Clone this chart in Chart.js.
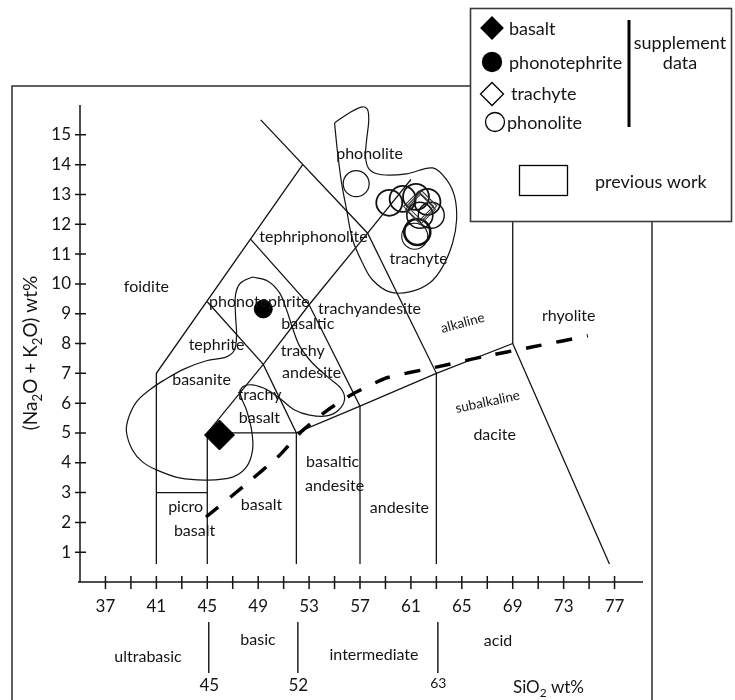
<!DOCTYPE html>
<html>
<head>
<meta charset="utf-8">
<title>TAS diagram</title>
<script src="https://cdn.jsdelivr.net/npm/chart.js@4.4.1/dist/chart.umd.min.js"></script>
<style>
  html, body { margin: 0; padding: 0; background: #fff; }
  canvas { display: block; }
</style>
</head>
<body>
<canvas id="tas" width="735" height="700"></canvas>
<script>
// ---- axis ticks -------------------------------------------------------
const xTickValues = [37,39,41,43,45,47,49,51,53,55,57,59,61,63,65,67,69,71,73,75,77];
const xTickLabels = [37,41,45,49,53,57,61,65,69,73,77];
const yTickValues = [1,2,3,4,5,6,7,8,9,10,11,12,13,14,15];
const silicaClassBreaks = [45, 52, 63];

// ---- TAS field boundaries (SiO2 wt%, Na2O+K2O wt%) -------------------
const lineFoiditeLeft    = [[41,0.6],[41,7],[52.5,14]];
const linePhonoliteBase  = [[49.2,15.5],[57.6,11.7],[63,7],[63,0.6]];
const linePicroTop       = [[41,3],[45,3]];
const lineTrachyBase     = [[45,0.6],[45,5],[49.4,7.3],[53,9.3],[57.6,11.7],[61,13.5]];
const lineTephrite       = [[45,9.4],[49.4,7.3],[52,5],[52,0.6]];
const lineTephriphono    = [[48.4,11.5],[53,9.3],[57,5.9],[57,0.6]];
const lineSubalkTop      = [[45,5],[52,5],[57,5.9],[63,7],[69,8],[76.6,0.6]];
const lineRhyolite       = [[69,8],[69,13]];

// alkaline / subalkaline divide
const alkalineDivide = [[44.9,2.18],[47.8,3.19],[50.7,4.26],[52.4,5.05],[54.4,5.75],
                        [56.4,6.3],[59.1,6.85],[62.9,7.2],[66.6,7.55],[70.5,7.88],[74.9,8.26]];

// previous work: outlines of earlier analyses
const fieldMafic = [[48.56,10.23],[49.74,10.1],[50.68,9.7],[51.23,9.13],[51.7,8.52],[52.25,7.92],
  [53.19,7.38],[54.45,6.88],[55.47,6.51],[55.79,6.14],[55.32,5.77],[54.37,5.57],[53.04,5.6],
  [51.86,5.77],[50.84,6.11],[49.74,6.44],[48.56,6.61],[47.77,6.54],[47.61,6.28],[48.08,5.77],
  [48.48,5.1],[48.56,4.43],[48.08,3.86],[46.98,3.52],[45.02,3.42],[42.82,3.49],[41.01,3.76],
  [39.91,4.03],[39.12,4.43],[38.65,5.03],[38.81,5.5],[39.44,6.04],[40.46,6.44],[41.64,6.78],
  [43.21,7.15],[44.94,7.42],[46.51,7.55],[47.14,7.79],[47.3,8.29],[47.22,8.96],[47.22,9.63],
  [47.61,10.03]];
const fieldFelsic = [[55.0,15.4],[56.18,15.74],[57.2,15.94],[57.6,15.84],[57.68,15.44],[57.52,14.83],
  [57.44,14.23],[57.75,13.83],[58.7,13.66],[60.66,13.69],[62.71,13.89],[63.81,13.49],[64.44,12.92],
  [64.59,12.15],[64.28,11.38],[63.49,10.57],[62.47,10.03],[60.9,9.73],[59.33,9.73],[57.99,10.13],
  [57.2,10.7],[56.42,11.48],[55.95,12.48],[55.55,13.39],[55.24,14.4]];

// supplement data
const basaltPts        = [[45.96,4.93]];
const phonotephritePts = [[49.4,9.16]];
const trachytePts      = [[61.6,12.6],[61.75,12.5],[61.85,12.62]];
const phonolitePts     = [[56.7,13.36],[59.3,12.72],[60.35,12.85],[61.4,12.92],[62.3,12.75],
                          [61.7,12.3],[62.6,12.3],[61.5,11.74],[61.3,11.6]];
const phonoliteStroke  = [1.2,1.8,1.8,1.8,1.8,1.6,1.4,2.6,1.1];

// rock names placed at (SiO2, alkali)
const fieldNames = [
  ['phonolite',57.75,14.36],['tephriphonolite',53.35,11.58],['trachyte',61.6,10.84],
  ['foidite',40.22,9.9],['phonotephrite',49.1,9.4],['trachyandesite',57.75,9.16],
  ['basaltic',52.9,8.66],['trachy',52.5,7.75],['andesite',53.2,7.01],
  ['tephrite',45.73,7.95],['basanite',44.55,6.78],['trachy',49.1,6.28],['basalt',49.1,5.5],
  ['rhyolite',73.4,8.93],['dacite',67.58,4.93],['basaltic',54.85,4.03],['andesite',55.0,3.22],
  ['andesite',60.1,2.48],['basalt',49.26,2.58],['picro',43.3,2.52],['basalt',44.0,1.71]
];
const seriesNames = [['alkaline',65.07,8.69,-15],['subalkaline',67.03,6.04,-12]];
const silicaClasses = [['ultrabasic',148,657],['basic',258,640],['intermediate',374,655],['acid',498,641]];
const legendEntries = ['basalt','phonotephrite','trachyte','phonolite'];

const FONT = "Lato, 'Open Sans', sans-serif";
const INK = '#141414';

const toXY = arr => arr.map(([x, y]) => ({ x, y }));
const boundary = arr => ({
  data: toXY(arr), showLine: true, borderColor: INK, borderWidth: 1.3,
  pointRadius: 0, tension: 0
});
const outline = arr => ({
  data: toXY(arr.concat([arr[0]])), showLine: true, borderColor: INK, borderWidth: 1.2,
  pointRadius: 0, tension: 0.35
});

function richText(ctx, parts, x, y, size) {
  // parts: [text, isSubscript]
  let cx = x;
  for (const [t, sub] of parts) {
    ctx.font = `${sub ? size * 0.7 : size}px ${FONT}`;
    ctx.fillText(t, cx, sub ? y + size * 0.25 : y);
    cx += ctx.measureText(t).width;
  }
  return cx - x;
}
function richWidth(ctx, parts, size) {
  let w = 0;
  for (const [t, sub] of parts) {
    ctx.font = `${sub ? size * 0.7 : size}px ${FONT}`;
    w += ctx.measureText(t).width;
  }
  return w;
}
function diamond(ctx, x, y, r, filled) {
  ctx.beginPath();
  ctx.moveTo(x - r, y); ctx.lineTo(x, y - r); ctx.lineTo(x + r, y); ctx.lineTo(x, y + r);
  ctx.closePath();
  if (filled) { ctx.fill(); } ctx.stroke();
}
function circle(ctx, x, y, r, filled) {
  ctx.beginPath(); ctx.arc(x, y, r, 0, Math.PI * 2);
  if (filled) { ctx.fill(); } ctx.stroke();
}

const tasDecor = {
  id: 'tasDecor',
  beforeDraw(chart) {
    const { ctx, width, height } = chart;
    ctx.save();
    ctx.fillStyle = '#fff';
    ctx.fillRect(0, 0, width, height);
    ctx.strokeStyle = '#3a3a3a';
    ctx.lineWidth = 1.6;
    ctx.strokeRect(12, 86, 640, 660);
    ctx.restore();
  },
  afterDatasetsDraw(chart) {
    const { ctx, chartArea } = chart;
    const xs = chart.scales.x, ys = chart.scales.y;
    ctx.save();
    ctx.strokeStyle = INK;
    ctx.lineWidth = 1.5;
    // axes with ticks crossing the axis line
    const x0 = xs.getPixelForValue(35), yb = ys.getPixelForValue(0);
    ctx.beginPath();
    ctx.moveTo(x0, ys.getPixelForValue(16)); ctx.lineTo(x0, yb);
    ctx.moveTo(x0 - 2, yb); ctx.lineTo(chartArea.right + 3, yb);
    for (const t of xs.ticks) {
      const px = xs.getPixelForValue(t.value);
      ctx.moveTo(px, yb - 6); ctx.lineTo(px, yb + 7);
    }
    for (const t of ys.ticks) {
      const py = ys.getPixelForValue(t.value);
      ctx.moveTo(x0 - 5, py); ctx.lineTo(x0 + 6, py);
    }
    ctx.stroke();

    // rock names
    ctx.fillStyle = INK;
    ctx.textAlign = 'center';
    ctx.textBaseline = 'middle';
    ctx.font = `16px ${FONT}`;
    for (const [t, sx, al] of fieldNames) {
      ctx.fillText(t, xs.getPixelForValue(sx), ys.getPixelForValue(al));
    }
    ctx.font = `13.5px ${FONT}`;
    for (const [t, sx, al, deg] of seriesNames) {
      ctx.save();
      ctx.translate(xs.getPixelForValue(sx), ys.getPixelForValue(al));
      ctx.rotate(deg * Math.PI / 180);
      ctx.fillText(t, 0, 0);
      ctx.restore();
    }

    // silica classes under the axis
    ctx.font = `16px ${FONT}`;
    for (const [t, px, py] of silicaClasses) ctx.fillText(t, px, py);
    ctx.lineWidth = 1.4;
    ctx.beginPath();
    for (const b of silicaClassBreaks) {
      const px = xs.getPixelForValue(b) + 1.5;
      ctx.moveTo(px, 622); ctx.lineTo(px, 673);
    }
    ctx.stroke();
    silicaClassBreaks.forEach((b, i) => {
      ctx.font = `${i === 2 ? 14 : 17}px ${FONT}`;
      ctx.fillText(String(b), xs.getPixelForValue(b) + 2, i === 2 ? 683 : 686);
    });

    // axis titles
    ctx.textAlign = 'left';
    ctx.textBaseline = 'alphabetic';
    richText(ctx, [['SiO', false], ['2', true], [' wt%', false]], 513, 693, 17);
    const yTitle = [['(Na', false], ['2', true], ['O + K', false], ['2', true], ['O) wt%', false]];
    ctx.save();
    ctx.translate(37, 353);
    ctx.rotate(-Math.PI / 2);
    const w = richWidth(ctx, yTitle, 19);
    richText(ctx, yTitle, -w / 2, 0, 19);
    ctx.restore();
    ctx.restore();
  },
  afterDraw(chart) {
    const { ctx } = chart;
    ctx.save();
    ctx.fillStyle = '#fff';
    ctx.fillRect(470, 8, 262, 214);
    ctx.strokeStyle = '#3a3a3a';
    ctx.lineWidth = 1.6;
    ctx.strokeRect(470.5, 8.5, 261, 213);

    ctx.fillStyle = '#000';
    ctx.strokeStyle = '#000';
    ctx.lineWidth = 1.3;
    diamond(ctx, 492, 28, 11, true);
    circle(ctx, 492, 62, 9.5, true);
    diamond(ctx, 492, 94, 11.5, false);
    circle(ctx, 495, 122, 9.5, false);
    ctx.strokeRect(519.5, 165.5, 48, 30);

    ctx.lineWidth = 3;
    ctx.beginPath(); ctx.moveTo(629, 20); ctx.lineTo(629, 127); ctx.stroke();

    ctx.fillStyle = INK;
    ctx.font = `18px ${FONT}`;
    ctx.textBaseline = 'middle';
    ctx.textAlign = 'left';
    const lx = [509, 509, 511, 507], ly = [29, 63, 94, 123];
    legendEntries.forEach((t, i) => ctx.fillText(t, lx[i], ly[i]));
    ctx.fillText('previous work', 595, 182);
    ctx.textAlign = 'center';
    ctx.fillText('supplement', 680, 43);
    ctx.fillText('data', 680, 63);
    ctx.restore();
  }
};

const datasets = [
  { data: toXY(basaltPts), pointStyle: 'rectRot', pointRadius: 15,
    pointBackgroundColor: '#000', pointBorderColor: '#000', pointBorderWidth: 1 },
  { data: toXY(phonotephritePts), pointStyle: 'circle', pointRadius: 9,
    pointBackgroundColor: '#000', pointBorderColor: '#000', pointBorderWidth: 1 },
  { data: toXY(trachytePts), pointStyle: 'rectRot', pointRadius: 15,
    pointBackgroundColor: 'rgba(0,0,0,0)', pointBorderColor: '#333', pointBorderWidth: 1.1 },
  { data: toXY(phonolitePts), pointStyle: 'circle', pointRadius: 13,
    pointBackgroundColor: 'rgba(0,0,0,0)', pointBorderColor: '#111', pointBorderWidth: phonoliteStroke },
  { data: toXY(alkalineDivide), showLine: true, borderColor: '#000', borderWidth: 3.5,
    borderDash: [16, 15], pointRadius: 0, tension: 0.15 },
  outline(fieldMafic),
  outline(fieldFelsic),
  boundary(lineFoiditeLeft),
  boundary(linePhonoliteBase),
  boundary(linePicroTop),
  boundary(lineTrachyBase),
  boundary(lineTephrite),
  boundary(lineTephriphono),
  boundary(lineSubalkTop),
  boundary(lineRhyolite)
];

Chart.defaults.font.family = FONT;
Chart.defaults.color = INK;

new Chart(document.getElementById('tas'), {
  type: 'scatter',
  data: { datasets },
  plugins: [tasDecor],
  options: {
    responsive: false,
    animation: false,
    events: [],
    layout: { padding: { left: 0, top: 105, right: 95, bottom: 0 } },
    plugins: { legend: { display: false }, tooltip: { enabled: false } },
    scales: {
      x: {
        type: 'linear', min: 35, max: 79,
        afterBuildTicks: s => { s.ticks = xTickValues.map(v => ({ value: v })); },
        afterFit: s => { s.height = 118; },
        grid: { display: false, drawTicks: false },
        border: { display: false },
        ticks: {
          autoSkip: false, maxRotation: 0, padding: 14,
          font: { size: 17 }, color: INK,
          callback: v => (xTickLabels.includes(v) ? String(v) : '')
        }
      },
      y: {
        type: 'linear', min: 0, max: 16,
        afterBuildTicks: s => { s.ticks = yTickValues.map(v => ({ value: v })); },
        afterFit: s => { s.width = 80; },
        grid: { display: false, drawTicks: false },
        border: { display: false },
        ticks: { autoSkip: false, padding: 9, font: { size: 17 }, color: INK }
      }
    }
  }
});
</script>
</body>
</html>
